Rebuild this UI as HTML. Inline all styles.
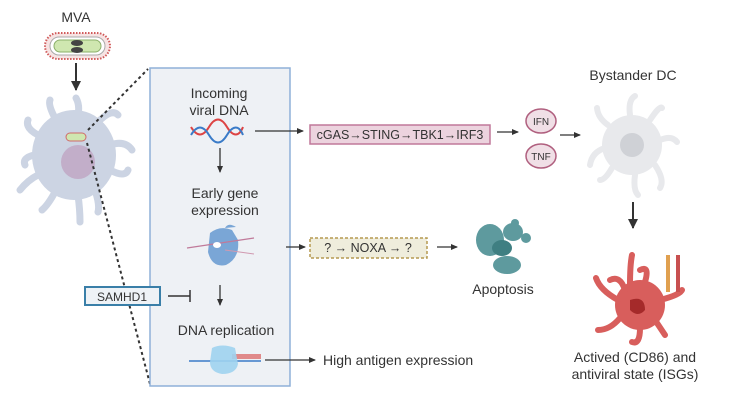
<!DOCTYPE html>
<html><head><meta charset="utf-8"><style>
html,body{margin:0;padding:0;background:#fff}
svg{display:block}
text{font-family:"Liberation Sans",sans-serif;fill:#333}
</style></head><body>
<svg width="743" height="409" viewBox="0 0 743 409">
<defs>
<marker id="ah" markerWidth="8" markerHeight="8" refX="6" refY="4" orient="auto" markerUnits="userSpaceOnUse"><path d="M0,1 L7,4 L0,7z" fill="#333"/></marker>
<marker id="ahb" markerWidth="12" markerHeight="12" refX="9" refY="6" orient="auto" markerUnits="userSpaceOnUse"><path d="M0,1 L10,6 L0,11z" fill="#333"/></marker>
</defs>
<!-- MVA -->
<text x="76" y="22" font-size="14" text-anchor="middle">MVA</text>
<rect x="45" y="33" width="65" height="26" rx="13" fill="#f7e3e3" stroke="#d05a5a" stroke-width="2" stroke-dasharray="1.5 1.5"/>
<rect x="50" y="37" width="55" height="18" rx="9" fill="#fff" stroke="#aaa"/>
<rect x="54" y="40" width="47" height="12" rx="6" fill="#cfe7b0" stroke="#8bb06a"/>
<ellipse cx="77" cy="43" rx="6" ry="3" fill="#444"/><ellipse cx="77" cy="50" rx="6" ry="3" fill="#444"/>
<line x1="76" y1="63" x2="76" y2="90" stroke="#333" stroke-width="2" marker-end="url(#ahb)"/>
<!-- infected cell -->
<g fill="#ccd4e3" stroke="#ccd4e3" stroke-linecap="round">
<ellipse cx="74" cy="155" rx="42" ry="45" stroke="none"/>
<path d="M78 115 Q80 105 76 98 M98 122 Q112 108 118 115 M110 145 Q125 140 132 150 M110 170 Q125 178 128 170 M95 190 Q100 205 98 212 M78 195 Q80 210 80 222 M55 192 Q48 205 42 210 M38 175 Q28 180 20 190 M34 155 Q22 158 25 165 M38 135 Q25 128 28 120 M55 118 Q48 105 50 100" fill="none" stroke-width="7"/>
</g>
<circle cx="78" cy="162" r="17" fill="#c2aec9"/>
<rect x="66" y="133" width="20" height="8" rx="4" fill="#cfe7b0" stroke="#d06a6a"/>
<line x1="88" y1="130" x2="148" y2="69" stroke="#333" stroke-width="2" stroke-dasharray="3 3"/>
<line x1="87" y1="143" x2="150" y2="384" stroke="#333" stroke-width="2" stroke-dasharray="3 3"/>
<!-- box -->
<rect x="150" y="68" width="140" height="318" fill="#eef1f5" stroke="#8fb0d8" stroke-width="1.5"/>
<text x="219" y="98" font-size="14" text-anchor="middle">Incoming</text>
<text x="219" y="115" font-size="14" text-anchor="middle">viral DNA</text>
<path d="M191 127 C197 137,203 137,209 127 S221 117,227 127 S239 137,243 127" fill="none" stroke="#d44" stroke-width="2"/>
<path d="M191 135 C197 125,203 125,209 135 S221 145,227 135 S239 125,243 135" fill="none" stroke="#3a7bc8" stroke-width="2"/>
<line x1="220" y1="148" x2="220" y2="172" stroke="#333" stroke-width="1.3" marker-end="url(#ah)"/>
<text x="225" y="198" font-size="14" text-anchor="middle">Early gene</text>
<text x="225" y="215" font-size="14" text-anchor="middle">expression</text>
<path d="M210 233 Q220 225 232 230 L238 240 Q240 258 226 265 Q212 268 208 252 Z" fill="#7aa6d6"/>
<path d="M225 228 Q228 222 236 227" fill="#7aa6d6"/>
<line x1="187" y1="248" x2="254" y2="238" stroke="#c07a9a" stroke-width="1.2"/>
<line x1="225" y1="250" x2="254" y2="254" stroke="#d099b0" stroke-width="1"/>
<ellipse cx="217" cy="245" rx="4" ry="3" fill="#fff"/>
<line x1="220" y1="285" x2="220" y2="305" stroke="#333" stroke-width="1.3" marker-end="url(#ah)"/>
<rect x="85" y="287" width="75" height="18" fill="#eef2f6" stroke="#3a7fa8" stroke-width="2"/>
<text x="122" y="301" font-size="12" text-anchor="middle">SAMHD1</text>
<line x1="168" y1="296" x2="190" y2="296" stroke="#333" stroke-width="1.5"/>
<line x1="190" y1="290" x2="190" y2="302" stroke="#333" stroke-width="1.5"/>
<text x="226" y="335" font-size="14" text-anchor="middle">DNA replication</text>
<line x1="189" y1="361" x2="261" y2="361" stroke="#3a7bc8" stroke-width="1.5"/>
<rect x="232" y="354" width="29" height="5" fill="#e08a8a"/>
<path d="M212 348 Q222 343 235 348 L238 364 Q236 374 222 374 Q210 372 210 362 Z" fill="#9fd3ef" opacity="0.9"/>
<line x1="265" y1="360" x2="315" y2="360" stroke="#333" stroke-width="1.3" marker-end="url(#ah)"/>
<text x="323" y="365" font-size="14">High antigen expression</text>
<!-- cGAS -->
<line x1="255" y1="131" x2="303" y2="131" stroke="#333" stroke-width="1.3" marker-end="url(#ah)"/>
<rect x="310" y="125" width="180" height="19" fill="#ecd3de" stroke="#c0789a" stroke-width="1.5"/>
<text x="400" y="139" font-size="12.5" text-anchor="middle">cGAS→STING→TBK1→IRF3</text>
<line x1="497" y1="132" x2="518" y2="132" stroke="#333" stroke-width="1.3" marker-end="url(#ah)"/>
<ellipse cx="541" cy="121" rx="15" ry="12" fill="#f0dfe6" stroke="#b0607f" stroke-width="1.5"/>
<text x="541" y="125" font-size="10" text-anchor="middle">IFN</text>
<ellipse cx="541" cy="156" rx="15" ry="12" fill="#f0dfe6" stroke="#b0607f" stroke-width="1.5"/>
<text x="541" y="160" font-size="10" text-anchor="middle">TNF</text>
<line x1="560" y1="135" x2="580" y2="135" stroke="#333" stroke-width="1.3" marker-end="url(#ah)"/>
<text x="633" y="80" font-size="14" text-anchor="middle">Bystander DC</text>
<g stroke="#e8e9ec" fill="none" stroke-width="6" stroke-linecap="round">
<circle cx="632" cy="145" r="30" fill="#e8e9ec" stroke="none"/>
<path d="M630 115 Q628 100 635 96 M650 120 Q660 105 662 108 M660 140 Q672 135 677 142 M655 165 Q665 180 660 188 M635 175 Q633 190 638 195 M612 168 Q605 180 600 180 M605 148 Q592 152 590 165 M608 125 Q598 118 597 108"/>
</g>
<circle cx="632" cy="145" r="12" fill="#cfd1d6"/>
<line x1="633" y1="202" x2="633" y2="228" stroke="#333" stroke-width="2" marker-end="url(#ahb)"/>
<!-- red cell -->
<g stroke="#d85e5c" fill="none" stroke-width="6" stroke-linecap="round">
<circle cx="640" cy="305" r="25" fill="#d85e5c" stroke="none"/>
<path d="M630 285 Q630 265 632 255 M645 282 Q650 265 640 270 M660 300 Q680 295 682 290 M655 320 Q665 335 665 335 M640 328 Q640 345 632 342 M620 318 Q610 330 598 330 M618 300 Q600 290 596 278 M625 290 Q620 275 610 280"/>
</g>
<path d="M630 300 Q645 295 645 310 Q638 318 630 310z" fill="#a52a2a"/>
<line x1="668" y1="255" x2="668" y2="292" stroke="#e0a050" stroke-width="4"/>
<line x1="678" y1="255" x2="678" y2="292" stroke="#c85050" stroke-width="4"/>
<text x="635" y="362" font-size="14" text-anchor="middle">Actived (CD86) and</text>
<text x="635" y="379" font-size="14" text-anchor="middle">antiviral state (ISGs)</text>
<!-- NOXA -->
<line x1="286" y1="247" x2="305" y2="247" stroke="#333" stroke-width="1.3" marker-end="url(#ah)"/>
<rect x="310" y="238" width="117" height="20" fill="#efeddc" stroke="#b59a50" stroke-width="1.5" stroke-dasharray="3 2"/>
<text x="368" y="252" font-size="12.5" text-anchor="middle">? → NOXA → ?</text>
<line x1="437" y1="247" x2="457" y2="247" stroke="#333" stroke-width="1.3" marker-end="url(#ah)"/>
<g fill="#5e9a9e">
<ellipse cx="490" cy="240" rx="14" ry="16"/>
<ellipse cx="513" cy="232" rx="10" ry="9"/>
<ellipse cx="507" cy="265" rx="14" ry="9"/>
<circle cx="515" cy="223" r="4"/><circle cx="526" cy="238" r="5"/>
<ellipse cx="502" cy="248" rx="10" ry="8" fill="#3f7f82"/>
</g>
<text x="503" y="294" font-size="14" text-anchor="middle">Apoptosis</text>
</svg>
</body></html>
